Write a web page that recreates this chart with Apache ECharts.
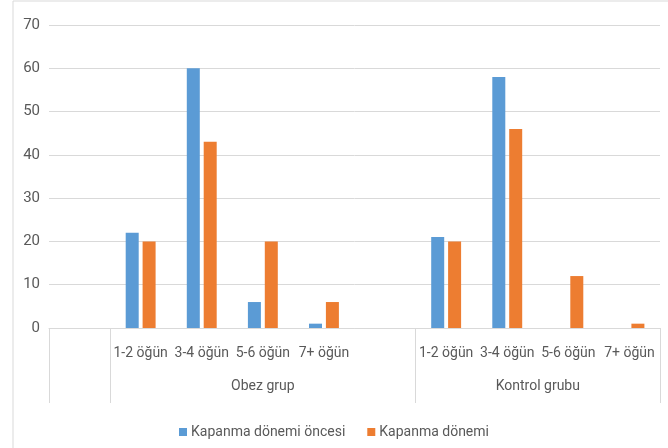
<!DOCTYPE html>
<html>
<head>
<meta charset="utf-8">
<script src="https://cdn.jsdelivr.net/npm/echarts@6/dist/echarts.min.js"></script>
<style>
  html, body { margin: 0; padding: 0; background: #fff; }
  #chart { width: 668px; height: 448px; }
</style>
</head>
<body>
<div id="chart"></div>
<script>
// Meal-frequency categories, grouped by study group (blank slots separate groups)
const categories = ['', '1-2 öğün', '3-4 öğün', '5-6 öğün', '7+ öğün', '', '1-2 öğün', '3-4 öğün', '5-6 öğün', '7+ öğün'];
const groupNames = ['', 'Obez grup', 'Kontrol grubu'];
const groupSizes = [1, 5, 4];
const seriesNames = ['Kapanma dönemi öncesi', 'Kapanma dönemi'];
const beforeValues = [null, 22, 60, 6, 1, null, 21, 58, null, null];
const duringValues = [null, 20, 43, 20, 6, null, 20, 46, 12, 1];
const yTicks = [0, 10, 20, 30, 40, 50, 60, 70];

const FONT = 'Roboto, "Open Sans", sans-serif';
const TEXT = '#595959';
const LINE = '#D9D9D9';

// Group boundaries and label centres on a 0..N value scale
const boundaries = [0];
groupSizes.forEach(s => boundaries.push(boundaries[boundaries.length - 1] + s));
const groupCentres = groupSizes.map((s, i) => boundaries[i] + s / 2);
const labelOf = {};
groupCentres.forEach((c, i) => { labelOf[c] = groupNames[i]; });

const chart = echarts.init(document.getElementById('chart'), null, { renderer: 'canvas' });
chart.setOption({
  animation: false,
  textStyle: { fontFamily: FONT },
  grid: { left: 49, right: 8, top: 25, bottom: 120, containLabel: false },
  graphic: [{
    type: 'rect',
    shape: { x: 13, y: 1, width: 700, height: 500 },
    style: { fill: 'none', stroke: '#D9D9D9', lineWidth: 1 },
    silent: true
  }],
  legend: {
    bottom: 4,
    left: 'center',
    itemWidth: 8,
    itemHeight: 8,
    itemGap: 22,
    icon: 'rect',
    textStyle: { color: TEXT, fontSize: 14, fontFamily: FONT, padding: [0, 0, 0, -1] },
    data: seriesNames
  },
  xAxis: [{
    type: 'category',
    data: categories,
    axisLine: { show: true, lineStyle: { color: LINE, width: 1 } },
    axisTick: { show: false },
    axisLabel: { color: TEXT, fontSize: 14, fontFamily: FONT, margin: 18, interval: 0 }
  }, {
    type: 'value',
    position: 'bottom',
    min: 0,
    max: boundaries[boundaries.length - 1],
    axisLine: { show: false },
    splitLine: { show: false },
    axisTick: {
      show: true,
      length: 75,
      customValues: boundaries,
      lineStyle: { color: LINE, width: 1 }
    },
    axisLabel: {
      color: TEXT,
      fontSize: 14,
      fontFamily: FONT,
      margin: 51,
      customValues: groupCentres,
      formatter: v => labelOf[v] || ''
    }
  }],
  yAxis: {
    type: 'value',
    min: yTicks[0],
    max: yTicks[yTicks.length - 1],
    interval: 10,
    axisLine: { show: false },
    axisTick: { show: false },
    splitLine: { lineStyle: { color: LINE, width: 1 } },
    axisLabel: { color: TEXT, fontSize: 15, fontFamily: FONT, margin: 9 }
  },
  series: [{
    name: seriesNames[0],
    type: 'bar',
    data: beforeValues,
    barWidth: 13,
    barGap: '30%',
    itemStyle: { color: '#5B9BD5' }
  }, {
    name: seriesNames[1],
    type: 'bar',
    data: duringValues,
    barWidth: 13,
    barGap: '30%',
    itemStyle: { color: '#ED7D31' }
  }]
});
</script>
</body>
</html>
